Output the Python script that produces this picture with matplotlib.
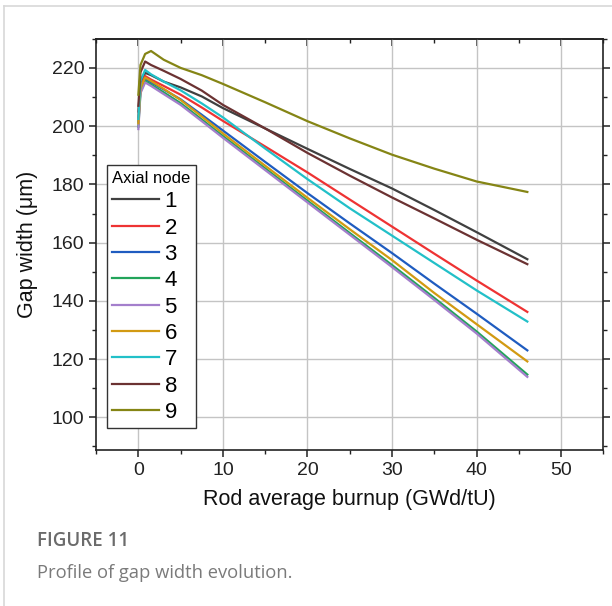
import matplotlib
matplotlib.use("Agg")
import matplotlib.pyplot as plt
from matplotlib.lines import Line2D
from matplotlib.ticker import MultipleLocator

# burnup grid (GWd/tU) shared by all axial nodes
burnup = [0, 0.25, 0.8, 1.5, 3, 5, 7.5, 10, 15, 20, 25, 30, 35, 40, 46]

# gap width (um) per axial node
node_1 = [205.0, 214.5, 218.3, 217.5, 215.3, 213.3, 210.2, 206.2, 199.2, 192.2, 185.3, 178.6, 171.2, 163.6, 154.3]
node_2 = [203.0, 213.5, 217.2, 216.0, 213.8, 210.8, 206.4, 201.8, 193.0, 184.1, 174.8, 165.5, 156.2, 147.0, 136.2]
node_3 = [201.5, 212.5, 216.2, 215.0, 212.6, 209.2, 203.9, 198.5, 187.7, 177.0, 166.6, 156.4, 145.9, 135.6, 123.0]
node_4 = [199.8, 211.8, 215.5, 214.3, 211.6, 207.9, 202.3, 196.6, 185.5, 174.4, 163.3, 152.3, 141.0, 129.5, 114.7]
node_5 = [199.0, 211.3, 215.0, 213.8, 211.0, 207.3, 201.7, 196.0, 184.9, 173.8, 162.7, 151.6, 140.3, 128.8, 113.9]
node_6 = [201.0, 213.0, 216.7, 215.5, 212.8, 209.0, 203.3, 197.5, 186.4, 175.4, 164.6, 154.0, 142.7, 132.0, 119.2]
node_7 = [202.5, 215.5, 219.3, 217.8, 215.3, 212.3, 207.8, 203.0, 192.3, 181.8, 171.8, 162.4, 153.0, 143.6, 132.9]
node_8 = [207.0, 218.5, 222.2, 221.0, 219.0, 216.2, 212.2, 207.3, 199.2, 190.8, 183.0, 175.5, 168.3, 161.0, 152.6]
node_9 = [210.8, 221.0, 224.8, 225.8, 222.8, 220.0, 217.5, 214.5, 208.2, 201.7, 195.8, 190.2, 185.4, 181.0, 177.4]

series = [node_1, node_2, node_3, node_4, node_5, node_6, node_7, node_8, node_9]
labels = ["1", "2", "3", "4", "5", "6", "7", "8", "9"]
colors = ["#404040", "#ee3333", "#1f5cc0", "#22a45a", "#a47fcc",
          "#d29a12", "#22c0c8", "#6b3232", "#858515"]

plt.rcParams['font.family'] = ['Liberation Sans', 'DejaVu Sans']

fig = plt.figure(figsize=(6.12, 6.06), dpi=100)
ax = fig.add_axes([0.157, 0.257, 0.829, 0.679])

for vals, lab, col in zip(series, labels, colors):
    ax.plot(burnup, vals, color=col, lw=1.6, label=lab)

ax.set_xlim(-5, 55)
ax.set_ylim(88.7, 230)
ax.xaxis.set_major_locator(MultipleLocator(10))
ax.xaxis.set_minor_locator(MultipleLocator(5))
ax.yaxis.set_major_locator(MultipleLocator(20))
ax.yaxis.set_minor_locator(MultipleLocator(10))
ax.grid(True, which='major', color='#c4c4c4', lw=1.0)
ax.set_axisbelow(True)

for s in ax.spines.values():
    s.set_color('#222222')
    s.set_linewidth(1.2)

ax.tick_params(which='both', direction='out', color='#222222', labelsize=14,
               labelcolor='#222222', top=False, right=True)
ax.tick_params(which='major', length=5, width=1.1)
ax.tick_params(which='minor', length=3, width=1.0)

# inward ticks along the top edge
sec = ax.secondary_xaxis('top')
sec.xaxis.set_major_locator(MultipleLocator(10))
sec.xaxis.set_minor_locator(MultipleLocator(5))
sec.tick_params(which='both', direction='in', color='#222222', labeltop=False)
sec.tick_params(which='major', length=5, width=1.1)
sec.tick_params(which='minor', length=3, width=1.0)
sec.spines['top'].set_linewidth(1.2)
sec.spines['top'].set_color('#222222')

ax.set_xlabel("Rod average burnup (GWd/tU)", fontsize=15.5, color='#111111', labelpad=7)
ax.set_ylabel("Gap width (μm)", fontsize=15.5, color='#111111', labelpad=10)

leg = ax.legend(title="Axial node", loc='lower left', bbox_to_anchor=(0.021, 0.053),
                borderaxespad=0, fontsize=16, title_fontsize=12, fancybox=False,
                framealpha=1, edgecolor='#333333', handlelength=2.1, handletextpad=0.25,
                labelspacing=0.24, borderpad=0.25)
leg.get_frame().set_linewidth(1.0)
leg._legend_box.align = "left"

# caption under the chart
fig.text(0.06, 0.107, "FIGURE 11", fontsize=13.5, fontweight='semibold',
         color='#6b6b6b', family=['Open Sans', 'DejaVu Sans'], va='center')
fig.text(0.06, 0.055, "Profile of gap width evolution.", fontsize=13.2,
         color='#7a7a7a', family=['Open Sans', 'DejaVu Sans'], va='center')

# light page frame
fig.add_artist(Line2D([0.007, 1.0], [0.99, 0.99], transform=fig.transFigure,
                      color='#d8d8d8', lw=1.2))
fig.add_artist(Line2D([0.007, 0.007], [0.0, 0.99], transform=fig.transFigure,
                      color='#d8d8d8', lw=1.2))

fig.savefig("out.png", dpi=100)
